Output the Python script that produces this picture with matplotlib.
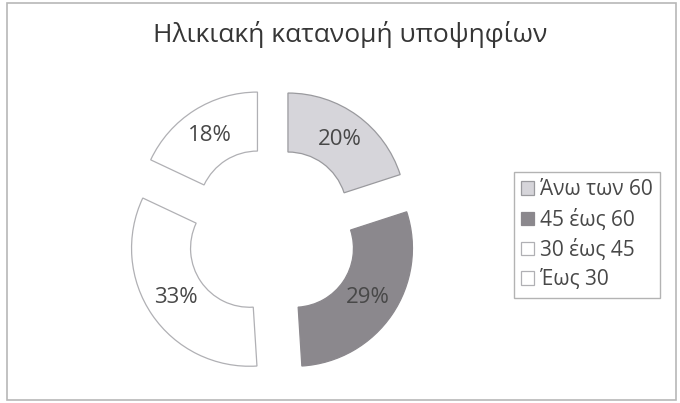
import matplotlib
matplotlib.use("Agg")
import matplotlib.pyplot as plt
from matplotlib.patches import Rectangle

plt.rcParams['font.family'] = ['Open Sans', 'DejaVu Sans']

# dane wykresu
labels = ["Άνω των 60", "45 έως 60", "30 έως 45", "Έως 30"]
shares = [20, 29, 33, 18]
colors = ["#d6d5da", "#8b888d", "#ffffff", "#ffffff"]
edges = ["#9a9a9e", "#8b888d", "#b0b0b4", "#b0b0b4"]
title = "Ηλικιακή κατανομή υποψηφίων"

W, H = 680, 403
fig = plt.figure(figsize=(W / 100, H / 100), dpi=100)
fig.patch.set_facecolor("white")

# ramka wykresu
fig.patches.append(Rectangle((7 / W, 1 - 400 / H), 669 / W, 397 / H,
                             transform=fig.transFigure, fill=False,
                             edgecolor="#b8b8b8", linewidth=1.2))

# srodek paczka ~ (272, 233) px, promien 118 px
R = 118
cx, cy = 272, 233
ax = fig.add_axes([(cx - 1.5 * R) / W, (H - cy - 1.5 * R) / H, 3 * R / W, 3 * R / H])

wedges, texts, autotexts = ax.pie(
    shares, explode=[0.23] * 4, startangle=90, counterclock=False,
    colors=colors, autopct="%d%%", pctdistance=0.75,
    wedgeprops=dict(width=0.5, linewidth=0.9),
    textprops=dict(fontsize=16, color="#484848"))
for w, ec in zip(wedges, edges):
    w.set_edgecolor(ec)
# pie() sam ustawia limity, wiec dopiero tutaj
ax.set_xlim(-1.5, 1.5)
ax.set_ylim(-1.5, 1.5)
ax.set_aspect("equal")
ax.axis("off")

fig.text(350 / W, 1 - 34 / H, title, ha="center", va="center",
         fontsize=19, color="#363636")

leg = fig.legend(wedges, labels, loc="upper left",
                 bbox_to_anchor=(514 / W, 1 - 172 / H),
                 frameon=True, fancybox=False, fontsize=15,
                 handlelength=0.6, handleheight=0.6, handletextpad=0.3,
                 labelspacing=0.4, borderpad=0.35, borderaxespad=0)
leg.get_frame().set_edgecolor("#a0a0a0")
leg.get_frame().set_linewidth(1.0)
for t in leg.get_texts():
    t.set_color("#484848")

fig.savefig("out.png", dpi=100)
